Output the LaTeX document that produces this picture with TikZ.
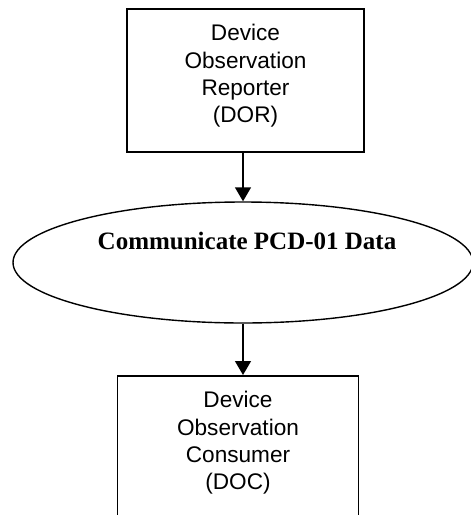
\documentclass[tikz,border=0pt]{standalone}
\usepackage{fontspec}
\setmainfont{Liberation Sans}
\newfontfamily\timesfont{Liberation Serif}
\usetikzlibrary{shapes.geometric,arrows.meta}
\begin{document}
\begin{tikzpicture}[x=1pt,y=-1pt,
  boxst/.style={draw=black,line width=1.6pt,rectangle,inner sep=0pt},
  ellst/.style={draw=black,line width=1.4pt,ellipse,inner sep=0pt,minimum width=460pt,minimum height=121pt},
  txtst/.style={align=center,font=\fontsize{22.6pt}{27.3pt}\selectfont,inner sep=0pt},
  conn/.style={line width=1.4pt,-{Triangle[width=16pt,length=14pt]}}]
\clip (0,0) rectangle (471,515);
\fill[white] (0,0) rectangle (471,515);
% top box
\node[boxst,minimum width=237pt,minimum height=143pt] (dor) at (245.5,80.5) {};
\node[txtst] (dortxt) at (245.5,76) {Device\\Observation\\Reporter\\(DOR)};
% ellipse
\node[ellst] (use) at (243,262.5) {};
\node[font=\timesfont\bfseries\fontsize{25pt}{30pt}\selectfont,inner sep=0pt] (usetxt) at (247,241) {Communicate PCD-01 Data};
% bottom box
\node[boxst,minimum width=241pt,minimum height=170pt,anchor=north] (doc) at (238,375) {};
\node[txtst] (doctxt) at (238,443) {Device\\Observation\\Consumer\\(DOC)};
% connectors
\draw[conn] (dor.south -| use.north) -- (use.north);
\draw[conn] (use.south) -- (use.south |- doc.north);
\end{tikzpicture}
\end{document}
